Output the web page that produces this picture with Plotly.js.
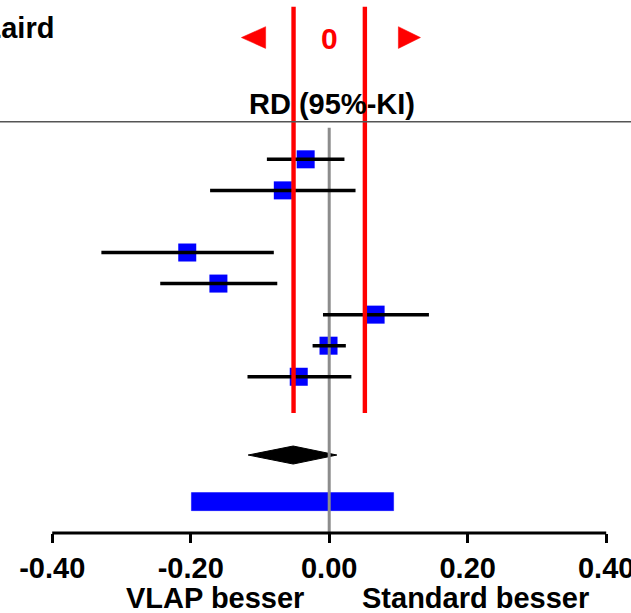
<!DOCTYPE html>
<html>
<head>
<meta charset="utf-8">
<script src="https://cdn.plot.ly/plotly-3.0.1.min.js"></script>
<style>html,body{margin:0;padding:0;background:#fff;}#chart{width:631px;height:613px;}</style>
</head>
<body>
<div id="chart"></div>
<script>
// ---- data ----
const studyRows = [0, 1, 3, 4, 5, 6, 7];
const studyRD   = [-0.034, -0.067, -0.205, -0.160, 0.067, -0.001, -0.044];
const studyLo   = [-0.090, -0.172, -0.329, -0.244, -0.009, -0.024, -0.118];
const studyHi   = [ 0.022,  0.038, -0.080, -0.075,  0.144,  0.024,  0.032];
const pooledRow = 9.52;
const pooled    = {est: -0.052, lo: -0.117, hi: 0.011};
const predRow   = 11.02;
const predInterval = {lo: -0.199, hi: 0.093};
const equivMargin = [-0.0515, 0.0515];
const tickVals  = [-0.40, -0.20, 0.00, 0.20, 0.40];
const tickText  = ["-0.40", "-0.20", "0.00", "0.20", "0.40"];
const xLabels   = ["VLAP besser", "Standard besser"];
const xLabelPos = [-0.165, 0.211];
const methodLabel = "DerSimonian-Laird";
const effectLabel = "RD (95%-KI)";

// ---- layout constants ----
const FONT = "Liberation Sans, Arial, sans-serif";
const xRange = [-0.4754, 0.4358];
const yRange = [12.03, -5.129];
const halfH = 0.29;
const triRow = -3.92, triHalf = 0.35;

const traces = [];
// squares
traces.push({x: studyRD, y: studyRows, type: 'scatter', mode: 'markers',
  marker: {symbol: 'square', size: 18, color: '#0000ff', line: {width: 0}},
  hoverinfo: 'skip', showlegend: false, cliponaxis: false});
// pooled diamond
traces.push({x: [pooled.lo, pooled.est, pooled.hi, pooled.est, pooled.lo],
  y: [pooledRow, pooledRow - halfH, pooledRow, pooledRow + halfH, pooledRow],
  type: 'scatter', mode: 'lines', fill: 'toself', fillcolor: '#000000',
  line: {color: '#000000', width: 1}, hoverinfo: 'skip', showlegend: false});
// prediction interval bar
traces.push({x: [predInterval.lo, predInterval.hi, predInterval.hi, predInterval.lo, predInterval.lo],
  y: [predRow - halfH, predRow - halfH, predRow + halfH, predRow + halfH, predRow - halfH],
  type: 'scatter', mode: 'lines', fill: 'toself', fillcolor: '#0000ff',
  line: {color: '#0000ff', width: 0.5}, hoverinfo: 'skip', showlegend: false});
// zero line (gray, above marks)
traces.push({x: [0, 0], y: [-1.02, yRange[0]], type: 'scatter', mode: 'lines',
  line: {color: '#8c8c8c', width: 3}, hoverinfo: 'skip', showlegend: false, cliponaxis: false});
// CI lines
studyRows.forEach((r, i) => {
  traces.push({x: [studyLo[i], studyHi[i]], y: [r, r], type: 'scatter', mode: 'lines',
    line: {color: '#000000', width: 3.5}, hoverinfo: 'skip', showlegend: false});
});
// equivalence margin lines (red)
equivMargin.forEach(m => {
  traces.push({x: [m, m], y: [-4.91, 8.17], type: 'scatter', mode: 'lines',
    line: {color: '#ff0000', width: 4.4}, hoverinfo: 'skip', showlegend: false, cliponaxis: false});
});
// red triangles
const triL = [-0.1268, -0.0918];
const triR = [0.0999, 0.1318];
traces.push({x: [triL[0], triL[1], triL[1], triL[0]], y: [triRow, triRow - triHalf, triRow + triHalf, triRow],
  type: 'scatter', mode: 'lines', fill: 'toself', fillcolor: '#ff0000', line: {color: '#ff0000', width: 0.5},
  hoverinfo: 'skip', showlegend: false});
traces.push({x: [triR[1], triR[0], triR[0], triR[1]], y: [triRow, triRow - triHalf, triRow + triHalf, triRow],
  type: 'scatter', mode: 'lines', fill: 'toself', fillcolor: '#ff0000', line: {color: '#ff0000', width: 0.5},
  hoverinfo: 'skip', showlegend: false});

const bold = (size, color) => ({family: FONT, size: size, color: color || '#000', weight: 'bold'});

const annotations = [
  {x: -0.395, y: -4.22, xref: 'x', yref: 'y', text: methodLabel, showarrow: false,
   xanchor: 'right', yanchor: 'middle', font: bold(29)},
  {x: 0.001, y: -3.89, xref: 'x', yref: 'y', text: '0', showarrow: false,
   xanchor: 'center', yanchor: 'middle', font: bold(30, '#ff0000')},
  {x: 0.004, y: -1.78, xref: 'x', yref: 'y', text: effectLabel, showarrow: false,
   xanchor: 'center', yanchor: 'middle', font: bold(29)},
];
xLabels.forEach((t, i) => annotations.push({x: xLabelPos[i], y: -0.122, xref: 'x', yref: 'paper', text: t,
  showarrow: false, xanchor: 'center', yanchor: 'middle', font: bold(29)}));

const layout = {
  width: 631, height: 613,
  margin: {l: 0, r: 0, t: 0, b: 80, pad: 0},
  paper_bgcolor: '#ffffff', plot_bgcolor: '#ffffff',
  showlegend: false,
  xaxis: {range: xRange, showgrid: false, zeroline: false, showline: false,
    tickmode: 'array', tickvals: tickVals, ticktext: tickText,
    ticks: 'outside', ticklen: 9, tickwidth: 3, tickcolor: '#000',
    ticklabeloverflow: 'allow', automargin: false,
    tickfont: bold(29), fixedrange: true},
  yaxis: {range: yRange, showgrid: false, zeroline: false, showline: false,
    showticklabels: false, ticks: '', fixedrange: true},
  shapes: [
    {type: 'line', xref: 'x', yref: 'paper', x0: tickVals[0], x1: tickVals[tickVals.length - 1], y0: 0, y1: 0,
     line: {color: '#000', width: 3}},
    {type: 'line', xref: 'paper', yref: 'y', x0: 0, x1: 1, y0: -1.21, y1: -1.21,
     line: {color: '#555555', width: 1.5}},
  ],
  annotations: annotations,
};

Plotly.newPlot('chart', traces, layout, {displayModeBar: false, staticPlot: true});
</script>
</body>
</html>
